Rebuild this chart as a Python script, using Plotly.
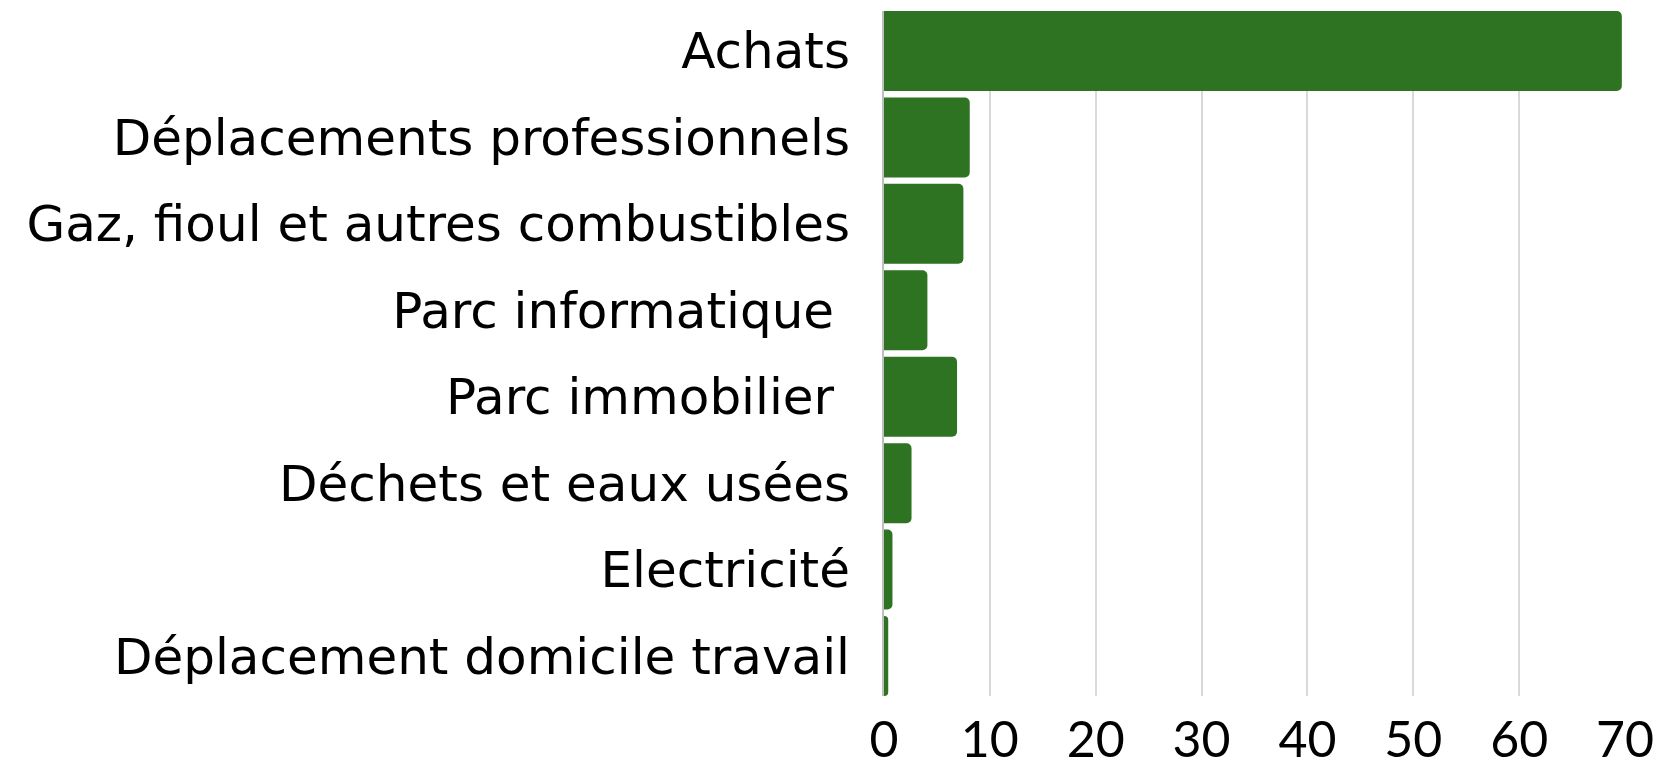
import plotly.graph_objects as go

categories = [
    "Achats",
    "Déplacements professionnels",
    "Gaz, fioul et autres combustibles",
    "Parc informatique\u00a0",
    "Parc immobilier\u00a0",
    "Déchets et eaux usées",
    "Electricité",
    "Déplacement domicile travail",
]
values = [69.7, 8.1, 7.5, 4.1, 6.9, 2.6, 0.8, 0.4]
x_ticks = [0, 10, 20, 30, 40, 50, 60, 70]

LABEL_FONT = "'DejaVu Sans', Lato, sans-serif"
TICK_FONT = "Lato, 'Liberation Sans', sans-serif"
GAP = 0.075

fig = go.Figure(
    go.Bar(
        x=values,
        y=categories,
        orientation="h",
        marker=dict(color="#2E7322", line=dict(width=0), cornerradius=5),
        hoverinfo="x+y",
    )
)

fig.update_layout(
    width=1660,
    height=768,
    margin=dict(l=884, r=35, t=11, b=72),
    paper_bgcolor="white",
    plot_bgcolor="white",
    bargap=GAP,
    showlegend=False,
    font=dict(family=LABEL_FONT, color="#000000"),
)

fig.update_xaxes(
    range=[0, 70],
    tickvals=x_ticks,
    ticktext=[str(v) for v in x_ticks],
    showgrid=True,
    gridcolor="#d9d9d9",
    gridwidth=1.5,
    zeroline=False,
    showline=False,
    tickfont=dict(size=50, family=TICK_FONT, color="#000000"),
    ticklabelstandoff=10,
    automargin=False,
)

n = len(categories)
fig.update_yaxes(
    categoryorder="array",
    categoryarray=categories,
    range=[n - 0.5 - GAP / 2, -0.5 + GAP / 2],
    showgrid=False,
    showline=True,
    linecolor="#bfbfbf",
    linewidth=2,
    tickfont=dict(size=50, family=LABEL_FONT, color="#000000"),
    ticklabelstandoff=22,
    automargin=False,
)

fig.write_html("out.html")
